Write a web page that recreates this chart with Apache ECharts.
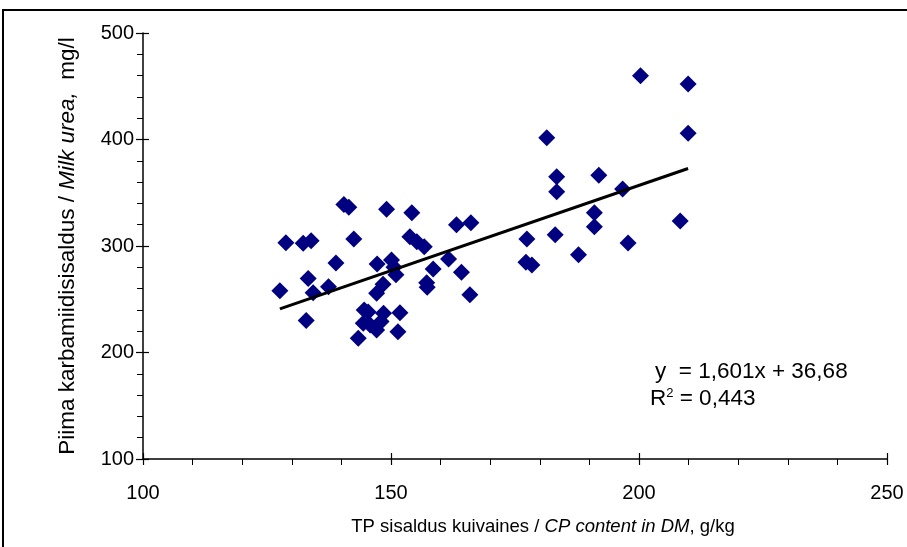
<!DOCTYPE html>
<html>
<head>
<meta charset="utf-8">
<script src="https://cdn.jsdelivr.net/npm/echarts@6/dist/echarts.min.js"></script>
<style>
html,body{margin:0;padding:0;background:#fff;}
#chart{width:907px;height:547px;}
</style>
</head>
<body>
<div id="chart"></div>
<script>
// CP content in DM, g/kg
var cpContent = [127.6,128.8,132.3,133.9,133.3,132.9,134.3,137.4,138.9,140.5,141.5,142.5,143.4,144.4,144.6,145.4,145.8,147.2,147.1,147.1,148.4,148.5,148.0,149.1,150.1,150.6,151.0,151.8,151.4,154.2,153.8,155.2,156.7,157.2,157.3,158.5,161.6,163.2,164.2,166.1,165.9,177.4,177.2,178.4,181.4,183.4,183.4,183.1,187.8,191.9,191.0,191.0,196.7,197.8,200.3,208.3,209.9,209.9];
// Milk urea, mg/l
var milkUrea = [258,303,302.5,305,269.5,230,256.2,261.8,284,339,336.5,306.6,213.3,227.4,240,238,225.8,283,255.6,221.1,264,236.8,229,334.5,286.9,280,273,237.4,219.5,331.3,308.7,304,299.3,265.5,261.2,278.4,287.8,320,275.3,321.9,254.3,306.6,284.7,282.2,401.7,365.1,351,310.6,291.8,366.4,331.3,318.1,353.5,302.8,459.9,323.5,452.1,405.8];
var xTicks = [100,150,200,250];
var yTicks = [100,200,300,400,500];
var trendSlope = 1.601;
var trendIntercept = 36.68;
var equationText = 'y  = 1,601x + 36,68';
var r2Text = '0,443';

var points = cpContent.map(function(x,i){return [x, milkUrea[i]];});
var xMinD = Math.min.apply(null, cpContent), xMaxD = Math.max.apply(null, cpContent);
var trend = [[xMinD, trendSlope*xMinD+trendIntercept],[xMaxD, trendSlope*xMaxD+trendIntercept]];

var FONT = '"Liberation Sans", Arial, sans-serif';
var chart = echarts.init(document.getElementById('chart'));
var baseX = {
  type:'value', min:xTicks[0], max:xTicks[xTicks.length-1], interval:50,
  splitLine:{show:false}
};
var baseY = {
  type:'value', min:yTicks[0], max:yTicks[yTicks.length-1], interval:100,
  splitLine:{show:false}
};
chart.setOption({
  animation:false,
  backgroundColor:'#fff',
  grid:{left:143, right:20, top:33, bottom:88},
  xAxis:[
    Object.assign({}, baseX, {
      position:'bottom',
      axisLine:{lineStyle:{color:'#000', width:1.5}},
      axisTick:{inside:false, length:6, lineStyle:{color:'#000', width:1.2}},
      minorTick:{show:true, splitNumber:5, length:6, lineStyle:{color:'#000', width:1}},
      axisLabel:{color:'#000', fontFamily:FONT, fontSize:20, margin:24},
      name:'{n|TP sisaldus kuivaines / }{i|CP content in DM}{n|, g/kg}',
      nameLocation:'middle', nameGap:58,
      nameTextStyle:{padding:[0,0,0,56], rich:{n:{fontFamily:FONT,fontSize:18.5,color:'#000'},i:{fontFamily:FONT,fontSize:18.5,fontStyle:'italic',color:'#000'}}}
    }),
    Object.assign({}, baseX, {
      position:'bottom',
      axisLine:{show:false},
      axisTick:{inside:true, length:6, lineStyle:{color:'#000', width:1.2}},
      axisLabel:{show:false}
    })
  ],
  yAxis:[
    Object.assign({}, baseY, {
      position:'left',
      axisLine:{show:true, lineStyle:{color:'#000', width:1.5}},
      axisTick:{show:true, inside:false, length:7, lineStyle:{color:'#000', width:1.2}},
      minorTick:{show:true, splitNumber:5, length:6, lineStyle:{color:'#000', width:1}},
      axisLabel:{color:'#000', fontFamily:FONT, fontSize:20, margin:9},
      name:'{n|Piima karbamiidisisaldus / }{i|Milk urea,}{n|  mg/l}',
      nameLocation:'middle', nameGap:64, nameRotate:90,
      nameTextStyle:{rich:{n:{fontFamily:FONT,fontSize:22.5,color:'#000'},i:{fontFamily:FONT,fontSize:22.5,fontStyle:'italic',color:'#000'}}}
    }),
    Object.assign({}, baseY, {
      position:'left',
      axisLine:{show:false},
      axisTick:{show:true, inside:true, length:6, lineStyle:{color:'#000', width:1.2}},
      axisLabel:{show:false}
    })
  ],
  series:[
    {
      type:'scatter', data:points, symbol:'diamond', symbolSize:17,
      itemStyle:{color:'#000080', opacity:1}, xAxisIndex:0, yAxisIndex:0, z:3
    },
    {
      type:'line', data:trend, symbol:'none', xAxisIndex:0, yAxisIndex:0,
      lineStyle:{color:'#000', width:3}, z:4
    }
  ],
  graphic:[
    {type:'rect', shape:{x:3,y:10,width:950,height:600}, style:{fill:null, stroke:'#000', lineWidth:2}, silent:true},
    {type:'text', left:655, top:360, style:{text:equationText, fontFamily:FONT, fontSize:22.5, fill:'#000'}},
    {type:'text', left:650, top:387, style:{text:'{r|R}{s|2}{r| = ' + r2Text + '}', fontFamily:FONT, fontSize:22.5, fill:'#000',
      rich:{r:{fontFamily:FONT,fontSize:22.5,fill:'#000'}, s:{fontFamily:FONT,fontSize:13,fill:'#000',verticalAlign:'top',padding:[0,0,10,0]}}}}
  ]
});
</script>
</body>
</html>
